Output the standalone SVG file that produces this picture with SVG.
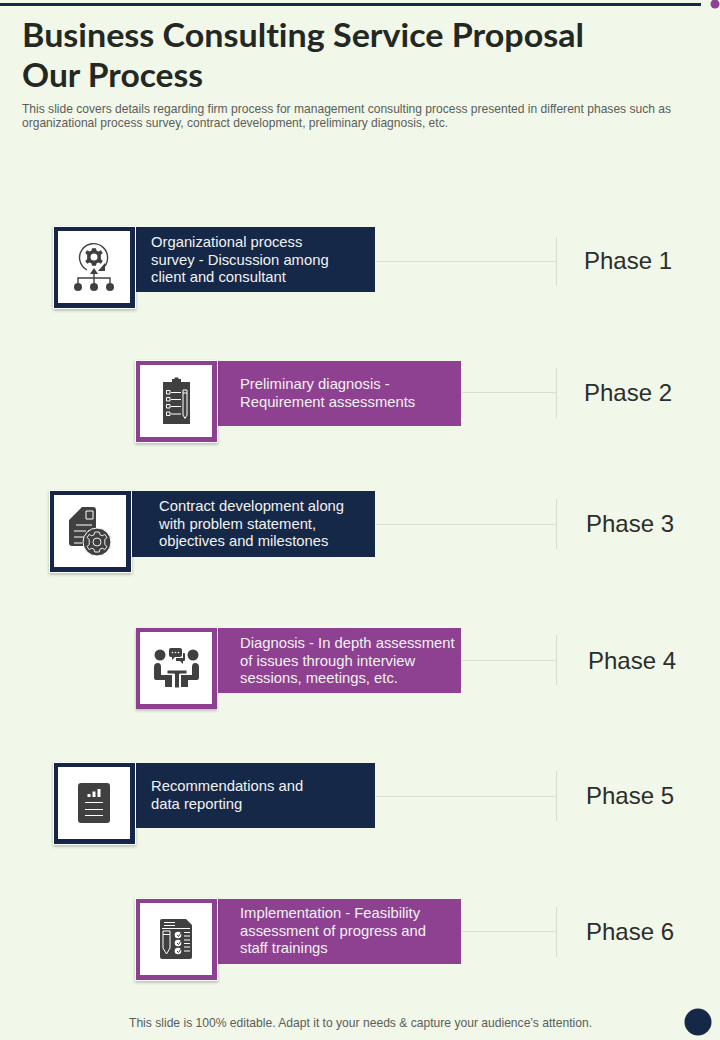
<svg xmlns="http://www.w3.org/2000/svg" width="720" height="1040" viewBox="0 0 720 1040">
<defs>
<filter id="sh" x="-10%" y="-10%" width="125%" height="125%"><feDropShadow dx="0" dy="1.5" stdDeviation="1.5" flood-color="#000" flood-opacity="0.25"/></filter>
<g id="gear"><path d="M-2.2 -10H2.2L3 -7.2L5.2 -6.2L7.8 -7.6L10 -4.5L7.8 -2.6V0L7.8 2.6L10 4.5L7.8 7.6L5.2 6.2L3 7.2L2.2 10H-2.2L-3 7.2L-5.2 6.2L-7.8 7.6L-10 4.5L-7.8 2.6V-2.6L-10 -4.5L-7.8 -7.6L-5.2 -6.2L-3 -7.2Z"/></g>
</defs>
<style>
.t{font-family:"Liberation Sans",Arial,sans-serif}
.title{font-family:Lato,"Open Sans",sans-serif;font-weight:700;font-size:32px;fill:#232823;font-variant-ligatures:none}
.sub{font-size:12.2px;fill:#5a5e5a}
.lbl{font-size:14.8px;fill:#f2f2f2}
.ph{font-size:24px;fill:#2b2e2b}
.navy{fill:#162848}.pur{fill:#8e4190}
.frame{stroke:#fff;stroke-width:1}
.w{fill:#fff}.ic{fill:#404040}
.ln{stroke:#404040;fill:none}
.wl{stroke:#fff;fill:none}
.c{stroke:#d9ddd5;stroke-width:1;fill:none}
</style>
<rect width="720" height="1040" fill="#f1f7e9"/>
<rect x="0" y="3" width="701" height="3" fill="#162848"/>
<circle cx="715" cy="4" r="4.500" fill="#8e4190"/>
<text class="title" x="22" y="47" textLength="562" lengthAdjust="spacingAndGlyphs">Business Consulting Service Proposal</text>
<text class="title" x="22" y="87" textLength="181" lengthAdjust="spacingAndGlyphs">Our Process</text>
<text class="t sub" x="22" y="113" textLength="649" lengthAdjust="spacingAndGlyphs">This slide covers details regarding firm process for management consulting process presented in different phases such as</text>
<text class="t sub" x="22" y="127" textLength="426" lengthAdjust="spacingAndGlyphs">organizational process survey, contract development, preliminary diagnosis, etc.</text>

<g id="connectors">
<path class="c" d="M376 261.500H556M556.500 237V286"/>
<path class="c" d="M462 392.500H556M556.500 368V418"/>
<path class="c" d="M376 524.500H556M556.500 499V549"/>
<path class="c" d="M462 660.500H556M556.500 635V685"/>
<path class="c" d="M376 796.500H556M556.500 771V821"/>
<path class="c" d="M462 931.500H556M556.500 907V957"/>
</g>

<g id="phase1">
<rect class="navy" x="136" y="227" width="239" height="65"/>
<rect x="53.500" y="226.500" width="82" height="82" class="navy frame" filter="url(#sh)"/>
<rect class="w" x="58" y="231" width="72" height="72"/>
<use href="#gear" transform="translate(94 257) scale(.88)" class="ic"/>
<circle cx="94" cy="257" r="3.500" class="w"/>
<path class="ln" stroke-width="1.400" d="M87 270A14 14 0 1 1 103 268"/>
<path class="ic" d="M105 263L98 271H105Z"/>
<path class="ln" stroke-width="1.400" d="M94 270V286M78 283V278H110V283"/>
<path class="ic" d="M94 268L90 274H98Z"/>
<circle class="ic" cx="78" cy="287" r="4"/><circle class="ic" cx="94" cy="287" r="4"/><circle class="ic" cx="110" cy="287" r="4"/>
<text class="t lbl" x="151" y="247">Organizational process</text>
<text class="t lbl" x="151" y="265">survey - Discussion among</text>
<text class="t lbl" x="151" y="282">client and consultant</text>
<text class="t ph" x="584" y="269">Phase 1</text>
</g>

<g id="phase2">
<rect class="pur" x="218" y="361" width="243" height="65"/>
<rect x="135.500" y="360.500" width="82" height="82" class="pur frame" filter="url(#sh)"/>
<rect class="w" x="140" y="365" width="72" height="72"/>
<rect class="ic" x="163" y="382" width="27" height="42"/>
<path class="ic" d="M172 382V379H174.500V377.500H178.500V379H181V382Z"/>
<path class="wl" stroke-width="1" d="M166.500 390.500h3.500v3.500h-3.500zM166.500 397.500h3.500v3.500h-3.500zM166.500 404.500h3.500v3.500h-3.500zM166.500 412h3.500v3.500h-3.500zM171 392.500h10M171 399.500h10M171 406.500h10M171 414h10M183 390V415L185 418.500L187 415V390H183ZM183 393H187"/>
<text class="t lbl" x="240" y="389">Preliminary diagnosis -</text>
<text class="t lbl" x="240" y="407">Requirement assessments</text>
<text class="t ph" x="584" y="401">Phase 2</text>
</g>

<g id="phase3">
<rect class="navy" x="132" y="491" width="243" height="66"/>
<rect x="49.500" y="490.500" width="82" height="82" class="navy frame" filter="url(#sh)"/>
<rect class="w" x="54" y="495" width="72" height="72"/>
<path class="ic" d="M82 507H93Q96 507 96 510V530H88V546H72Q69 546 69 543V520Z"/>
<path class="wl" stroke-width="1" d="M86 511H93V519H86ZM76 525H92M74 531H86M74 537H84M74 543H82"/>
<circle class="ic" cx="97" cy="542" r="14" stroke="#fff" stroke-width="1"/>
<use href="#gear" transform="translate(97 542)" fill="none" stroke="#fff" stroke-width=".9"/>
<circle cx="97" cy="542" r="4" fill="none" stroke="#fff" stroke-width=".9"/>
<text class="t lbl" x="159" y="511">Contract development along</text>
<text class="t lbl" x="159" y="529">with problem statement,</text>
<text class="t lbl" x="159" y="546">objectives and milestones</text>
<text class="t ph" x="586" y="532">Phase 3</text>
</g>

<g id="phase4">
<rect class="pur" x="218" y="628" width="243" height="65"/>
<rect x="136" y="628" width="81" height="81" class="pur" filter="url(#sh)"/>
<rect class="w" x="140" y="632" width="72" height="72"/>
<circle class="ic" cx="160" cy="655" r="5.500"/><circle class="ic" cx="193" cy="655" r="5.500"/>
<path class="ic" d="M158 663Q161 663 161 667V675H172V687H165V680H156Q154 680 154 677V667Q154 663 158 663Z"/>
<path class="ic" d="M195 663Q192 663 192 667V675H181V687H188V680H197Q199 680 199 677V667Q199 663 195 663Z"/>
<path class="ic" d="M167 670H187V674H179.500V688H174.500V674H167Z" stroke="#fff" stroke-width="1"/>
<rect class="ic" x="169" y="648" width="13" height="9" rx="2"/>
<path class="ic" d="M172 657V660L175 657Z"/>
<path class="ic" d="M183 653H184Q185 653 185 654V660Q185 661 184 661H183V664L180 661H176V658H183Z"/>
<circle class="w" cx="172.500" cy="652.500" r=".8"/><circle class="w" cx="175.500" cy="652.500" r=".8"/><circle class="w" cx="178.500" cy="652.500" r=".8"/>
<text class="t lbl" x="240" y="648">Diagnosis - In depth assessment</text>
<text class="t lbl" x="240" y="666">of issues through interview</text>
<text class="t lbl" x="240" y="683">sessions, meetings, etc.</text>
<text class="t ph" x="588" y="669">Phase 4</text>
</g>

<g id="phase5">
<rect class="navy" x="136" y="763" width="239" height="65"/>
<rect x="53.500" y="762.500" width="82" height="82" class="navy frame" filter="url(#sh)"/>
<rect class="w" x="58" y="767" width="72" height="72"/>
<rect class="ic" x="78" y="783" width="32" height="40" rx="3"/>
<path class="w" d="M87.500 794h3v3h-3zM92.500 791.500h3v5.500h-3zM97.500 789h3v8h-3z"/>
<path class="wl" stroke-width="1" d="M85 802.500H103M85 809.500H103M85 815.500H103"/>
<text class="t lbl" x="151" y="791">Recommendations and</text>
<text class="t lbl" x="151" y="809">data reporting</text>
<text class="t ph" x="586" y="804">Phase 5</text>
</g>

<g id="phase6">
<rect class="pur" x="218" y="899" width="243" height="65"/>
<rect x="135.500" y="898.500" width="82" height="82" class="pur frame" filter="url(#sh)"/>
<rect class="w" x="140" y="903" width="72" height="72"/>
<path class="ic" d="M162 919H186L192 925V957Q192 959 190 959H162Q160 959 160 957V921Q160 919 162 919Z"/>
<path class="wl" stroke-width="1" d="M164 922.500H175M164 925.500H175M162 928.500H190M163 931H170V948L166.500 954L163 948ZM163 934.500H170M184 932.500H190M184 936H190M184 940H190M184 943.500H190M184 947H190M184 951H190"/>
<circle class="w" cx="178" cy="935" r="3.300"/><circle class="w" cx="178" cy="943" r="3.300"/><circle class="w" cx="178" cy="951" r="3.300"/>
<path class="ln" stroke-width="1" d="M177 935L178.500 936.500L181 933M177 943L178.500 944.500L181 941M177 951L178.500 952.500L181 949"/>
<text class="t lbl" x="240" y="918">Implementation - Feasibility</text>
<text class="t lbl" x="240" y="936">assessment of progress and</text>
<text class="t lbl" x="240" y="953">staff trainings</text>
<text class="t ph" x="586" y="940">Phase 6</text>
</g>

<text class="t" x="129" y="1027" font-size="12.200" fill="#5a5e5a" textLength="463" lengthAdjust="spacingAndGlyphs">This slide is 100% editable. Adapt it to your needs &amp; capture your audience’s attention.</text>
<circle cx="698" cy="1022" r="13.500" fill="#162848"/>
</svg>
